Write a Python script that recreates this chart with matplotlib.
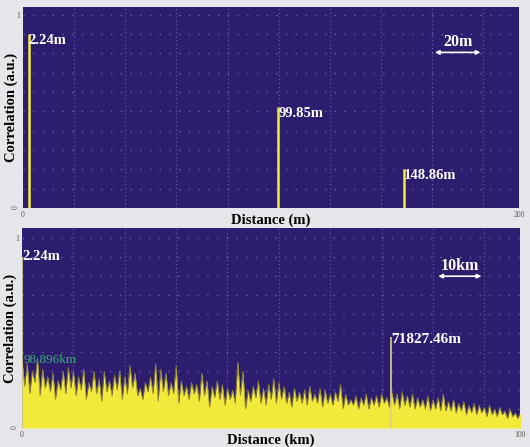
"""Two-panel correlation trace: short range (m) on top, long range (km) below."""

import matplotlib

matplotlib.use("Agg")
import matplotlib.pyplot as plt  # noqa: E402
import numpy as np  # noqa: E402

# --- data -------------------------------------------------------------
# top panel: reflection peaks (distance in m, correlation in a.u.)
top_peak_m = [2.24, 99.85, 148.86]
top_peak_val = [0.90, 0.52, 0.20]
top_peak_txt = ["2.24m", "99.85m", "148.86m"]
top_range_m = 194.0  # visible span of the axis
top_tick_txt = ["0", "200"]

# bottom panel: peaks (distance in km)
bot_peak_km = [0.00224, 71.82746]
bot_peak_val = [0.90, 0.48]
bot_peak_txt = ["2.24m", "71827.46m"]
bot_range_km = 97.0
bot_tick_txt = ["0", "100"]

# bottom panel noise floor, read per km: spike tops at k, dips at k + 0.5
noise_peaks = [
    0.36, 0.34, 0.30, 0.37, 0.31, 0.27, 0.29, 0.25, 0.30, 0.32,
    0.30, 0.27, 0.31, 0.24, 0.30, 0.26, 0.30, 0.25, 0.28, 0.30,
    0.27, 0.33, 0.29, 0.21, 0.24, 0.27, 0.34, 0.31, 0.29, 0.24,
    0.33, 0.25, 0.22, 0.24, 0.23, 0.29, 0.25, 0.22, 0.25, 0.23,
    0.21, 0.20, 0.35, 0.30, 0.20, 0.22, 0.25, 0.21, 0.23, 0.26,
    0.24, 0.22, 0.19, 0.21, 0.19, 0.20, 0.22, 0.18, 0.21, 0.20,
    0.18, 0.19, 0.23, 0.18, 0.15, 0.17, 0.16, 0.18, 0.16, 0.17,
    0.18, 0.16, 0.19, 0.18, 0.19, 0.17, 0.18, 0.16, 0.15, 0.17,
    0.15, 0.16, 0.18, 0.14, 0.15, 0.13, 0.14, 0.12, 0.13, 0.12,
    0.11, 0.12, 0.10, 0.11, 0.09, 0.10, 0.08, 0.08,
]
noise_dips = [
    0.22, 0.18, 0.24, 0.17, 0.21, 0.19, 0.15, 0.20, 0.18, 0.21,
    0.17, 0.20, 0.15, 0.19, 0.18, 0.14, 0.19, 0.17, 0.20, 0.15,
    0.18, 0.21, 0.17, 0.15, 0.19, 0.18, 0.14, 0.19, 0.17, 0.18,
    0.13, 0.17, 0.15, 0.18, 0.14, 0.17, 0.11, 0.16, 0.15, 0.12,
    0.15, 0.13, 0.17, 0.10, 0.14, 0.16, 0.13, 0.12, 0.15, 0.13,
    0.15, 0.13, 0.11, 0.14, 0.13, 0.12, 0.14, 0.13, 0.11, 0.13,
    0.12, 0.14, 0.10, 0.12, 0.12, 0.10, 0.12, 0.10, 0.12, 0.11,
    0.13, 0.11, 0.12, 0.10, 0.12, 0.11, 0.10, 0.11, 0.10, 0.09,
    0.10, 0.09, 0.09, 0.09, 0.08, 0.09, 0.07, 0.08, 0.07, 0.08,
    0.06, 0.07, 0.06, 0.07, 0.05, 0.06, 0.05, 0.05,
]

# --- style --------------------------------------------------------------
BG = "#2c1d6e"
PAGE = "#e6e6ea"
YELLOW = "#f2e93a"
OLIVE = "#8f8633"
GRID = "#7a70c0"
SERIF = ["Liberation Serif", "DejaVu Serif"]


def _style(ax, xmax, ytop, tick_txt, xlabel):
    ax.set_facecolor(BG)
    ax.set_xlim(0, xmax)
    ax.set_ylim(0, ytop)
    step = xmax / 9.7  # grid pitch matches the 20 m / 10 km scale bars
    for k in range(1, 10):
        ax.axvline(k * step, color=GRID, lw=0.8, ls=(0, (1, 2.5)), alpha=0.8, zorder=1)
    for v in np.arange(0.1, 1.01, 0.1):
        ax.axhline(v, color=GRID, lw=1.0, ls=(0, (1, 6)), alpha=0.8, zorder=1)
    ax.set_xticks([0, xmax])
    ax.set_xticklabels(tick_txt, fontsize=5.5, color="#555555", family=SERIF)
    ax.set_yticks([0, 1])
    ax.set_yticklabels(["0", "1"], fontsize=5.5, color="#555555", family=SERIF)
    ax.get_yticklabels()[0].set_rotation(90)
    ax.tick_params(length=0, pad=2)
    for s in ax.spines.values():
        s.set_visible(False)
    ax.set_xlabel(xlabel, fontsize=10.5, fontweight="bold", family=SERIF, labelpad=-4)
    ax.set_ylabel("Correlation (a.u.)", fontsize=10.5, fontweight="bold", family=SERIF)
    ax.yaxis.set_label_coords(-0.01, 0.5)


def _scale_bar(ax, x0, x1, y, txt):
    ax.annotate("", xy=(x0, y), xytext=(x1, y),
                arrowprops=dict(arrowstyle="<|-|>", color="white", lw=1.2,
                                mutation_scale=6), zorder=5)
    ax.text((x0 + x1) / 2, y + 0.012, txt, color="white", fontsize=11.5,
            fontweight="bold", family=SERIF, ha="center", va="bottom", zorder=5)


fig = plt.figure(figsize=(5.30, 4.47), dpi=100, facecolor=PAGE)

# --- top panel ----------------------------------------------------------
ax1 = fig.add_axes([0.0434, 0.5347, 0.936, 0.4497])
_style(ax1, top_range_m, 1.04, top_tick_txt, "Distance (m)")
ax1.vlines(top_peak_m, 0, top_peak_val, color=YELLOW, lw=1.8, zorder=3)
for x, v, t in zip(top_peak_m, top_peak_val, top_peak_txt):
    ax1.text(x, v, t, color="white", fontsize=10.5, fontweight="bold",
             family=SERIF, ha="left", va="top", zorder=5)
_scale_bar(ax1, 160, 180, 0.805, "20m")

# --- bottom panel -------------------------------------------------------
ax2 = fig.add_axes([0.0415, 0.0425, 0.94, 0.447])
_style(ax2, bot_range_km, 1.053, bot_tick_txt, "Distance (km)")
km = np.arange(len(noise_peaks), dtype=float)
xs = np.empty(2 * len(km))
ys = np.empty(2 * len(km))
xs[0::2], xs[1::2] = km, km + 0.5
ys[0::2], ys[1::2] = noise_peaks, noise_dips
ax2.fill_between(xs, 0, ys, color=YELLOW, lw=0, zorder=2)
ax2.plot(xs, ys, color=OLIVE, lw=0.5, zorder=2.5)
ax2.vlines(bot_peak_km, 0, bot_peak_val, color="#d8d08a", lw=1.2, zorder=3)
ax2.text(0.0, 0.94, bot_peak_txt[0], color="white", fontsize=10.5,
         fontweight="bold", family=SERIF, ha="left", va="top", zorder=5)
ax2.text(bot_peak_km[1], bot_peak_val[1] + 0.02, bot_peak_txt[1], color="white",
         fontsize=11, fontweight="bold", family=SERIF, ha="left", va="top", zorder=5)
ax2.text(0.3, 0.39, "98.896km", color="#3cae78", fontsize=9.5, family=SERIF,
         ha="left", va="top", zorder=4)
_scale_bar(ax2, 80.5, 90, 0.80, "10km")

fig.savefig("out.png", dpi=100, facecolor=PAGE)
